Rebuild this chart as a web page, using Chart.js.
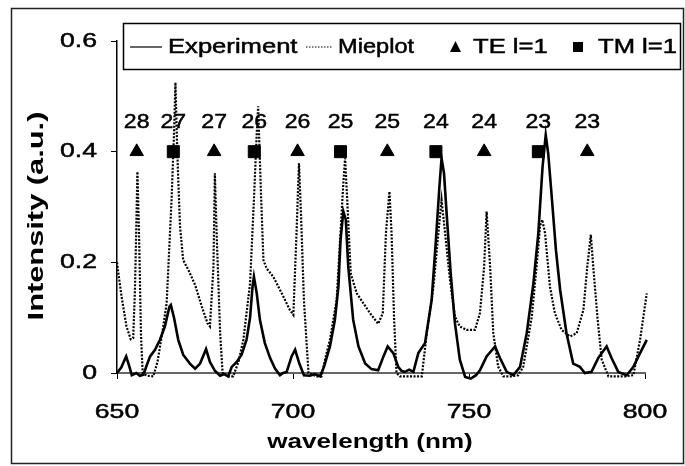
<!DOCTYPE html>
<html>
<head>
<meta charset="utf-8">
<script src="https://cdn.jsdelivr.net/npm/chart.js@4.4.0/dist/chart.umd.min.js"></script>
<style>
body { margin: 0; background: #fff; }
#wrap { width: 685px; height: 466px; }
</style>
</head>
<body>
<div id="wrap"><canvas id="grafica" width="685" height="466"></canvas></div>
<script>
// datos
const expWl = [650.0, 651.2, 652.6, 653.5, 654.2, 655.5, 656.5, 657.5, 658.5, 659.4, 660.8, 662.2, 663.6, 664.9, 665.3, 666.2, 667.4, 668.8, 670.7, 672.2,
  673.6, 675.3, 676.4, 677.8, 679.3, 680.5, 681.6, 682.6, 684.0, 685.4, 686.8, 687.8, 688.5, 688.9, 689.7, 690.6, 692.0, 693.5, 694.9, 696.3,
  697.2, 698.2, 699.6, 700.6, 701.8, 703.1, 704.8, 706.2, 707.7, 708.8, 710.5, 711.9, 712.9, 713.5, 714.3, 715.0, 715.7, 717.1, 718.6, 720.5,
  722.3, 724.2, 725.7, 726.9, 728.5, 729.9, 730.8, 731.8, 733.0, 734.2, 735.6, 737.5, 739.4, 740.6, 741.6, 742.2, 742.9, 743.7, 744.8, 746.0,
  747.4, 748.9, 750.5, 752.0, 753.1, 755.0, 757.4, 758.8, 760.7, 762.6, 764.5, 766.4, 768.3, 769.7, 770.9, 771.8, 772.5, 773.5, 774.7, 775.9,
  777.7, 779.6, 781.5, 782.9, 784.8, 786.7, 789.1, 790.5, 792.4, 794.8, 796.7, 798.6, 800.5, 801.9];
const expInt = [0.0, 0.01, 0.03, 0.012, -0.004, 0.0, -0.005, -0.003, 0.015, 0.03, 0.042, 0.06, 0.084, 0.12, 0.123, 0.10, 0.06, 0.033, 0.017, 0.008,
  0.017, 0.043, 0.02, 0.004, -0.005, -0.002, -0.006, 0.011, 0.02, 0.033, 0.06, 0.10, 0.156, 0.174, 0.144, 0.096, 0.054, 0.027, 0.008, -0.004,
  0.0, 0.002, 0.03, 0.042, 0.017, -0.004, -0.005, -0.002, -0.006, 0.011, 0.048, 0.096, 0.156, 0.24, 0.292, 0.277, 0.192, 0.096, 0.048, 0.017,
  0.007, 0.005, 0.03, 0.048, 0.036, 0.011, 0.004, 0.002, 0.006, 0.002, 0.036, 0.054, 0.132, 0.24, 0.337, 0.388, 0.361, 0.283, 0.18, 0.09,
  0.024, -0.007, -0.01, -0.004, 0.005, 0.03, 0.048, 0.027, 0.002, -0.004, 0.011, 0.072, 0.162, 0.253, 0.373, 0.43, 0.397, 0.319, 0.222, 0.15,
  0.072, 0.017, 0.011, 0.0, 0.002, 0.027, 0.048, 0.027, 0.002, -0.004, 0.011, 0.036, 0.06, 0.12];

const mieWl = [650.0, 650.4, 651.3, 652.7, 653.9, 654.6, 655.1, 655.4, 655.8, 656.3, 656.8, 657.3, 658.5, 660.3, 661.5, 662.8, 664.1, 665.5, 666.2, 666.6,
  667.1, 667.9, 668.8, 670.3, 672.2, 674.1, 675.7, 676.4, 677.4, 677.8, 678.3, 679.3, 680.0, 681.5, 683.0, 684.5, 685.9, 687.8, 688.9, 689.7,
  690.1, 690.8, 691.6, 692.5, 694.4, 696.8, 699.1, 700.1, 701.0, 701.7, 702.3, 703.1, 704.4, 706.7, 708.1, 709.3, 710.5, 712.4, 713.5, 714.3,
  714.8, 715.4, 716.4, 718.1, 720.0, 721.9, 724.2, 725.5, 726.4, 727.4, 728.0, 728.7, 729.4, 730.4, 733.0, 736.6, 738.0, 739.9, 741.3, 742.2,
  743.2, 744.6, 746.0, 747.4, 749.3, 751.7, 753.1, 754.3, 755.0, 756.0, 756.9, 758.3, 759.8, 762.0, 764.0, 765.4, 767.8, 769.2, 770.2, 770.8,
  771.6, 773.0, 774.4, 776.3, 778.7, 780.6, 782.5, 783.6, 784.6, 785.3, 786.5, 787.7, 789.6, 792.0, 794.5, 796.7, 798.6, 800.5, 801.9];
const mieInt = [0.20, 0.18, 0.138, 0.084, 0.061, 0.063, 0.15, 0.24, 0.364, 0.24, 0.072, 0.0, -0.005, -0.006, 0.02, 0.07, 0.126, 0.313, 0.433, 0.525,
  0.403, 0.265, 0.204, 0.186, 0.159, 0.12, 0.09, 0.084, 0.192, 0.361, 0.253, 0.072, 0.0, -0.006, -0.006, 0.02, 0.06, 0.162, 0.313, 0.433,
  0.482, 0.343, 0.204, 0.189, 0.174, 0.144, 0.114, 0.105, 0.253, 0.379, 0.283, 0.132, 0.0, -0.006, -0.006, 0.03, 0.06, 0.132, 0.253, 0.343,
  0.388, 0.313, 0.18, 0.144, 0.126, 0.108, 0.089, 0.108, 0.253, 0.328, 0.253, 0.102, 0.0, -0.006, -0.006, -0.006, 0.072, 0.156, 0.253, 0.313,
  0.253, 0.168, 0.102, 0.084, 0.078, 0.078, 0.108, 0.192, 0.292, 0.192, 0.072, 0.011, -0.006, -0.006, -0.004, 0.011, 0.10, 0.192, 0.266, 0.277,
  0.253, 0.156, 0.108, 0.078, 0.066, 0.072, 0.114, 0.192, 0.25, 0.192, 0.10, 0.024, -0.006, -0.006, -0.006, -0.004, 0.06, 0.144, 0.216];

// modos TE / TM (l=1) y su numero
const teWl = [655.6, 677.6, 701.3, 726.8, 754.3, 783.6];
const teLabels = ["28", "27", "26", "25", "24", "23"];
const tmWl = [666.0, 689.0, 713.5, 740.6, 769.7];
const tmLabels = ["27", "26", "25", "24", "23"];
const modeLevel = 0.4;

const xTicks = [650, 700, 750, 800];
const yTicks = [0, 0.2, 0.4, 0.6];
const xTitle = 'wavelength (nm)';
const yTitle = 'Intensity (a.u.)';

const fuente = '"Liberation Sans", Arial, sans-serif';

const puntos = (xs, ys) => xs.map((x, i) => ({ x: x, y: ys[i] }));

// texto ensanchado y algo engrosado como en la figura escaneada
function texto(ctx, str, x, y, size, sx, align, bold, rot) {
  ctx.save();
  ctx.translate(x, y);
  if (rot) ctx.rotate(rot);
  ctx.scale(sx, 1);
  ctx.font = (bold ? 'bold ' : '') + size + 'px ' + fuente;
  ctx.fillStyle = '#000';
  ctx.strokeStyle = '#000';
  ctx.lineWidth = 0.5;
  ctx.textAlign = align;
  ctx.textBaseline = 'middle';
  ctx.fillText(str, 0, 0);
  if (!bold) ctx.strokeText(str, 0, 0);
  ctx.restore();
}

// numeros encima de los marcadores
const etiquetas = {
  id: 'etiquetas',
  afterDatasetsDraw(chart) {
    const ctx = chart.ctx;
    [[2, teLabels], [3, tmLabels]].forEach(([i, txt]) => {
      chart.getDatasetMeta(i).data.forEach((p, j) => texto(ctx, txt[j], p.x, p.y - 29, 21, 1.1, 'center'));
    });
  }
};

// rotulos de ejes, leyenda y marco
const rotulos = {
  id: 'rotulos',
  afterDraw(chart) {
    const ctx = chart.ctx;
    const sx = chart.scales.x, sy = chart.scales.y;
    const ds = chart.data.datasets;

    xTicks.forEach(v => texto(ctx, String(v), sx.getPixelForValue(v), 412, 21, 1.27, 'center'));
    yTicks.forEach(v => texto(ctx, String(v), 97, sy.getPixelForValue(v), 21, 1.27, 'right'));
    texto(ctx, xTitle, 370, 442, 21, 1.24, 'center', true);
    texto(ctx, yTitle, 37, 216, 22, 1.4, 'center', true, -Math.PI / 2);

    ctx.save();
    ctx.strokeStyle = '#222';
    ctx.lineWidth = 1.5;
    ctx.strokeRect(11.5, 8.5, 672, 455);

    ctx.fillStyle = '#fff';
    ctx.fillRect(123, 23, 558, 47);
    ctx.strokeStyle = '#000';
    ctx.strokeRect(123.5, 23.5, 557, 46);

    const y = 47;
    ctx.lineWidth = 1.2;
    ctx.beginPath(); ctx.moveTo(130, y); ctx.lineTo(162, y); ctx.stroke();
    ctx.setLineDash([1.5, 1.5]);
    ctx.beginPath(); ctx.moveTo(306, y); ctx.lineTo(332, y); ctx.stroke();
    ctx.setLineDash([]);

    ctx.fillStyle = '#000';
    ctx.beginPath(); ctx.moveTo(455.5, y - 6); ctx.lineTo(461, y + 5); ctx.lineTo(450, y + 5); ctx.closePath(); ctx.fill();
    ctx.fillRect(573, y - 5, 10, 10);
    ctx.restore();

    texto(ctx, ds[0].label, 168, y, 20, 1.28, 'left');
    texto(ctx, ds[1].label, 338, y, 20, 1.18, 'left');
    texto(ctx, ds[2].label, 473, y, 20, 1.28, 'left');
    texto(ctx, ds[3].label, 598, y, 20, 1.28, 'left');
  }
};

const invisible = 'rgba(0,0,0,0)';

new Chart(document.getElementById('grafica'), {
  type: 'line',
  data: {
    datasets: [
      { label: 'Experiment', data: puntos(expWl, expInt), borderColor: '#000', borderWidth: 2.6, pointRadius: 0, tension: 0, clip: 8 },
      { label: 'Mieplot', data: puntos(mieWl, mieInt), borderColor: '#000', borderWidth: 2.2, borderDash: [2, 1.5], pointRadius: 0, tension: 0, clip: 8 },
      { label: 'TE l=1', data: teWl.map(x => ({ x: x, y: modeLevel })), showLine: false, pointStyle: 'triangle', pointRadius: 7.8, backgroundColor: '#000', borderColor: '#000' },
      { label: 'TM l=1', data: tmWl.map(x => ({ x: x, y: modeLevel })), showLine: false, pointStyle: 'rect', pointRadius: 8.5, backgroundColor: '#000', borderColor: '#000' }
    ]
  },
  options: {
    responsive: false,
    animation: false,
    devicePixelRatio: 1,
    layout: { padding: { top: 41, right: 40, left: 0, bottom: 0 } },
    plugins: { legend: { display: false }, tooltip: { enabled: false } },
    scales: {
      x: {
        type: 'linear', min: 650, max: 800,
        afterBuildTicks: s => { s.ticks = xTicks.map(v => ({ value: v })); },
        afterFit: s => { s.height = 93; },
        border: { color: '#666', width: 2 },
        grid: { drawOnChartArea: false, color: '#000', tickLength: 6 },
        ticks: { color: invisible, font: { size: 21, family: fuente }, padding: 20, maxRotation: 0 }
      },
      y: {
        min: 0, max: 0.6,
        afterBuildTicks: s => { s.ticks = yTicks.map(v => ({ value: v })); },
        afterFit: s => { s.width = 117; },
        border: { color: '#000', width: 1.5 },
        grid: { drawOnChartArea: false, color: '#000', tickLength: 6 },
        ticks: { color: invisible, font: { size: 21, family: fuente }, padding: 14 }
      }
    }
  },
  plugins: [etiquetas, rotulos]
});
</script>
</body>
</html>
